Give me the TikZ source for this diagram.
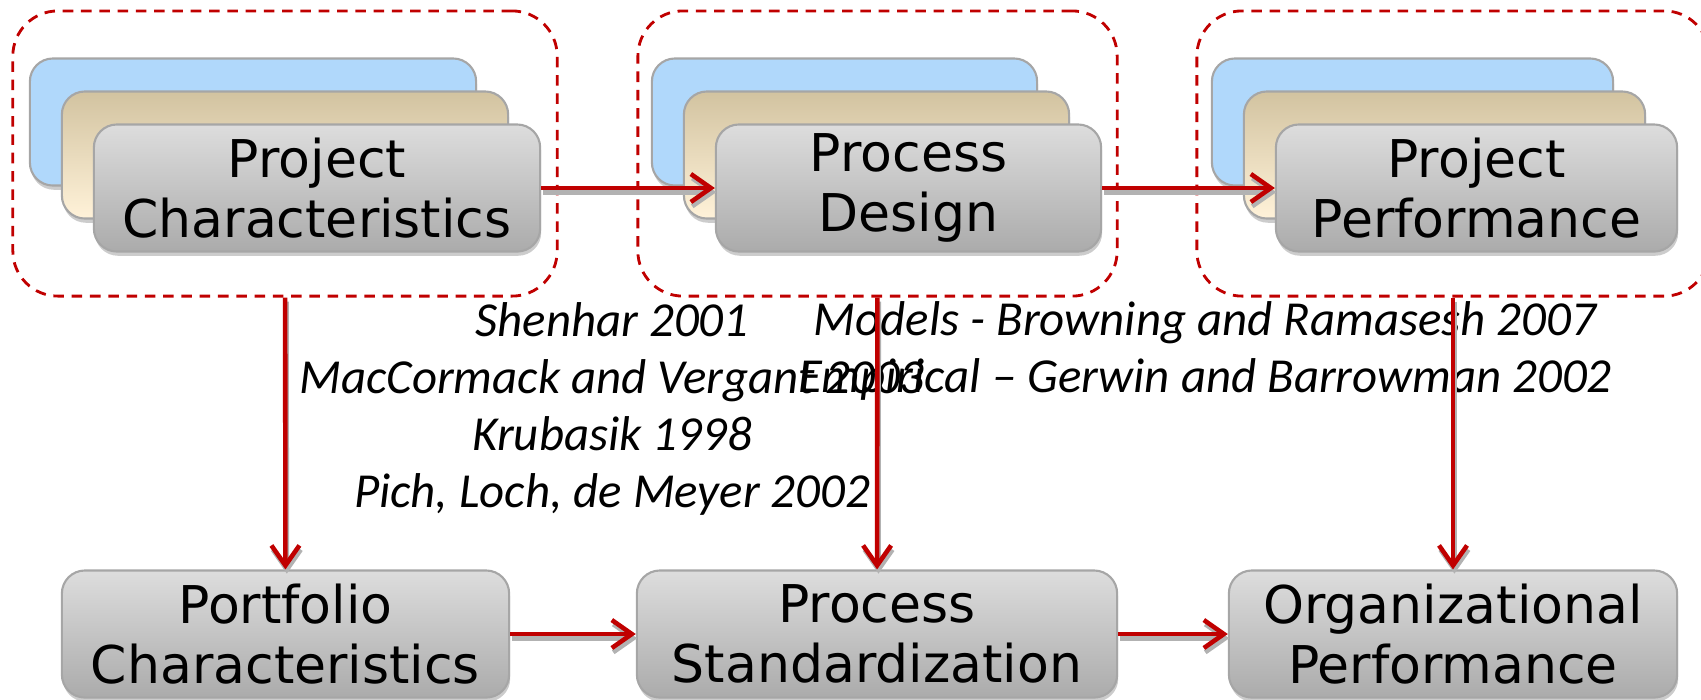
\documentclass[tikz,border=0pt]{standalone}
\usepackage{fontspec}
\setmainfont{DejaVu Sans}
\newfontfamily\reffont{Carlito}
\usetikzlibrary{arrows.meta,shadows,positioning}

\definecolor{linkred}{HTML}{C00000}
\definecolor{boxedge}{HTML}{A6A6A6}
\definecolor{graytop}{HTML}{DDDDDD}
\definecolor{graybot}{HTML}{ABABAB}
\definecolor{bluefill}{HTML}{B0D8FB}
\definecolor{tantop}{HTML}{D2C3A0}
\definecolor{tanbot}{HTML}{FFF2D9}

\begin{document}
\begin{tikzpicture}[x=0.01cm,y=-0.01cm,
    stackbox/.style={draw=boxedge, line width=0.6pt, rounded corners=0.23cm,
      minimum height=1.27cm, inner sep=0pt, align=center,
      font=\fontsize{14.8}{17}\selectfont,
      drop shadow={shadow xshift=0.3pt, shadow yshift=-1.2pt, opacity=0.4}},
    graybox/.style={stackbox, top color=graytop, bottom color=graybot},
    tanbox/.style={stackbox, top color=tantop, bottom color=tanbot},
    bluebox/.style={stackbox, fill=bluefill},
    groupframe/.style={draw=linkred, line width=0.8pt, dash pattern=on 3pt off 2.2pt,
      rounded corners=0.45cm, inner sep=0pt},
    link/.style={draw=linkred, line width=1.3pt,
      -{Straight Barb[length=0.2cm,width=0.28cm]},
      preaction={draw=gray!60, line width=1.3pt, -{Straight Barb[length=0.2cm,width=0.28cm]},
        transform canvas={shift={(0.4pt,-1.2pt)}}}},
    refs/.style={font=\reffont\itshape\fontsize{13.9}{16.2}\selectfont, align=center}]
  \useasboundingbox (0,0) rectangle (1701,699);

  % dashed groups
  \node[groupframe, minimum width=5.44cm, minimum height=2.85cm] (g1) at (285,153.5) {};
  \node[groupframe, minimum width=4.79cm, minimum height=2.85cm] (g2) at (877.5,153.5) {};
  \node[groupframe, minimum width=5.12cm, minimum height=2.85cm] (g3) at (1453,153.5) {};

  % stacked boxes
  \foreach \cx/\bw/\nm/\txt in {317/4.46/projchar/{Project\\Characteristics},
      908.5/3.85/procdes/{Process\\Design},
      1476.5/4.01/projperf/{Project\\Performance}} {
    \node[bluebox, minimum width=\bw cm] (\nm-b) at (\cx-64,122) {};
    \node[tanbox, minimum width=\bw cm] (\nm-t) at (\cx-32,155) {};
    \node[graybox, minimum width=\bw cm] (\nm) at (\cx,188) {\txt};
  }

  % bottom row
  \node[graybox, minimum width=4.47cm] (portfolio) at (285.5,634) {Portfolio\\Characteristics};
  \node[graybox, minimum width=4.80cm] (procstd) at (877,634) {Process\\Standardization};
  \node[graybox, minimum width=4.48cm] (orgperf) at (1453,634) {Organizational\\Performance};

  % literature
  \node[refs] (lit1) at (612,409) {Shenhar 2001\\MacCormack and Vergant 2003\\Krubasik 1998\\Pich, Loch, de Meyer 2002};
  \node[refs] (lit2) at (1205,351) {Models - Browning and Ramasesh 2007\\Empirical – Gerwin and Barrowman 2002};

  % links
  \draw[link] (projchar) -- (procdes);
  \draw[link] (procdes) -- (projperf);
  \draw[link] (g1) -- (portfolio);
  \draw[link] (g2) -- (procstd);
  \draw[link] (g3) -- (orgperf);
  \draw[link] (portfolio) -- (procstd);
  \draw[link] (procstd) -- (orgperf);
\end{tikzpicture}
\end{document}
